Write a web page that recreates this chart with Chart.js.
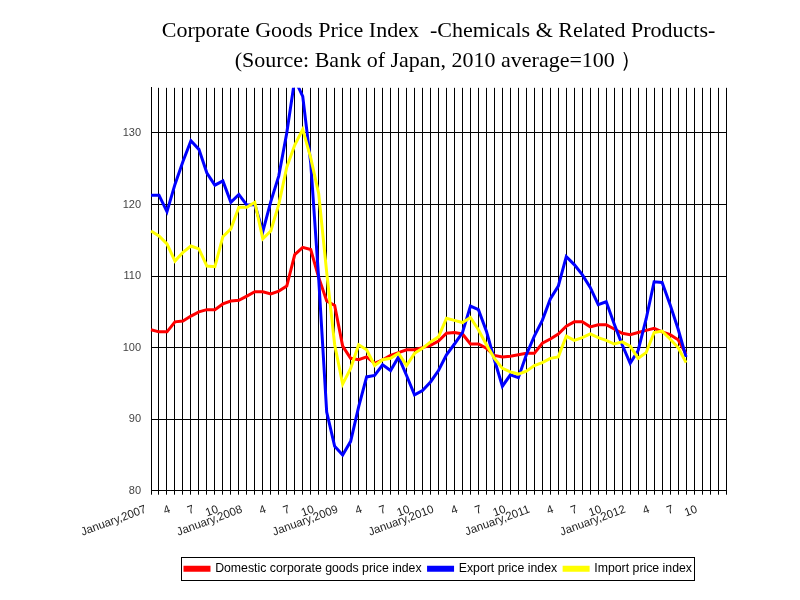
<!DOCTYPE html>
<html>
<head>
<meta charset="utf-8">
<script src="https://cdn.jsdelivr.net/npm/chart.js@4.4.1/dist/chart.umd.min.js"></script>
<style>
  body { margin: 0; background: #fff; }
  canvas { display: block; }
</style>
</head>
<body>
<canvas id="priceChart" width="800" height="600"></canvas>
<script>
// one label per month, Jan 2007 .. Jan 2013 (last one left blank)
const tickLabels = [
  "January,2007", "", "", "4", "", "", "7", "", "", "10", "", "",
  "January,2008", "", "", "4", "", "", "7", "", "", "10", "", "",
  "January,2009", "", "", "4", "", "", "7", "", "", "10", "", "",
  "January,2010", "", "", "4", "", "", "7", "", "", "10", "", "",
  "January,2011", "", "", "4", "", "", "7", "", "", "10", "", "",
  "January,2012", "", "", "4", "", "", "7", "", "", "10", "", "",
  ""
];

// monthly values, Jan 2007 .. Aug 2012
const domesticIndex = [
  102.5, 102.2, 102.2, 103.6, 103.7, 104.4, 105.0, 105.3, 105.3, 106.1, 106.5, 106.6,
  107.2, 107.8, 107.8, 107.5, 107.9, 108.6, 113.0, 114.0, 113.7, 109.8, 106.5, 105.9,
  100.2, 98.5, 98.3, 98.7, 97.8, 98.3, 98.9, 99.3, 99.7, 99.7, 100.0, 100.3,
  100.9, 102.0, 102.1, 101.9, 100.5, 100.5, 99.9, 98.9, 98.7, 98.8, 99.0, 99.2,
  99.2, 100.6, 101.2, 101.9, 103.0, 103.6, 103.6, 102.9, 103.2, 103.2, 102.6, 102.0,
  101.8, 102.1, 102.4, 102.7, 102.2, 101.8, 101.1, 99.1
];

const exportIndex = [
  121.3, 121.3, 119.0, 122.8, 126.0, 128.9, 127.7, 124.4, 122.7, 123.3, 120.3, 121.4,
  119.9, 120.0, 116.2, 120.4, 124.0, 130.0, 137.5, 135.1, 125.8, 109.6, 91.0, 86.2,
  85.0, 86.9, 91.7, 95.9, 96.1, 97.6, 96.8, 98.7, 96.1, 93.4, 94.0, 95.2,
  96.8, 99.0, 100.5, 102.1, 105.8, 105.3, 102.3, 98.3, 94.6, 96.2, 95.8, 99.0,
  101.6, 103.8, 106.8, 108.6, 112.7, 111.6, 110.2, 108.4, 106.0, 106.4, 103.3, 100.4,
  97.8, 99.6, 104.0, 109.2, 109.1, 106.0, 102.6, 98.7
];

const importIndex = [
  116.3, 115.6, 114.5, 112.1, 113.3, 114.2, 113.8, 111.4, 111.3, 115.5, 116.6, 119.6,
  119.6, 120.3, 115.2, 116.3, 120.0, 125.2, 128.3, 130.5, 126.5, 121.5, 110.5, 100.4,
  94.9, 97.1, 100.4, 99.7, 97.5, 98.3, 98.5, 99.2, 97.5, 99.2, 99.9, 100.8,
  101.5, 104.1, 103.8, 103.5, 104.2, 102.5, 100.4, 98.5, 97.1, 96.6, 96.3, 96.7,
  97.5, 97.9, 98.5, 98.7, 101.6, 101.0, 101.4, 101.9, 101.4, 101.0, 100.5, 100.8,
  100.2, 98.5, 99.3, 102.1, 102.3, 101.2, 100.0, 97.9
];

const seriesNames = [
  "Domestic corporate goods price index",
  "Export price index",
  "Import price index"
];
const seriesColors = ["#ff0000", "#0000ff", "#ffff00"];

const titleLines = [
  "Corporate Goods Price Index  -Chemicals & Related Products-",
  "(Source: Bank of Japan, 2010 average=100 \uff09"
];

// box round the legend, like the spreadsheet chart
const legendFrame = {
  id: "legendFrame",
  afterDraw(chart) {
    const boxes = chart.legend.legendHitBoxes;
    if (!boxes || boxes.length === 0) return;
    let left = Infinity, right = -Infinity, top = Infinity, bottom = -Infinity;
    boxes.forEach((b) => {
      left = Math.min(left, b.left);
      right = Math.max(right, b.left + b.width);
      top = Math.min(top, b.top);
      bottom = Math.max(bottom, b.top + b.height);
    });
    const ctx = chart.ctx;
    ctx.save();
    ctx.strokeStyle = "#000";
    ctx.lineWidth = 1;
    ctx.strokeRect(Math.round(left - 4) + 0.5, Math.round(top - 6) + 0.5,
      Math.round(right - left + 6), Math.round(bottom - top + 11));
    ctx.restore();
  }
};

const allSeries = [domesticIndex, exportIndex, importIndex];

new Chart(document.getElementById("priceChart"), {
  type: "line",
  data: {
    labels: tickLabels,
    datasets: allSeries.map((values, i) => ({
      label: seriesNames[i],
      data: values,
      borderColor: seriesColors[i],
      backgroundColor: seriesColors[i],
      borderWidth: 3,
      pointRadius: 0,
      tension: 0,
      order: 3 - i,
    })),
  },
  options: {
    responsive: false,
    animation: false,
    devicePixelRatio: 1,
    layout: { padding: { left: 0, right: 74, top: 0, bottom: 15 } },
    plugins: {
      tooltip: { enabled: false },
      title: {
        display: true,
        fullSize: false,
        text: titleLines,
        color: "#000",
        font: { family: "'Liberation Serif', 'Times New Roman', serif", size: 22, weight: "normal", lineHeight: 1.36 },
        padding: { top: 16, bottom: 12 },
      },
      legend: {
        position: "bottom",
        fullSize: false,
        labels: {
          color: "#000",
          font: { family: "'Liberation Sans', Arial, sans-serif", size: 12.3 },
          boxWidth: 24,
          boxHeight: 3,
          padding: 7,
          sort: (a, b) => a.datasetIndex - b.datasetIndex,
        },
      },
    },
    scales: {
      x: {
        type: "category",
        offset: false,
        grid: { color: "#000", lineWidth: 1, tickLength: 4, drawOnChartArea: true },
        border: { color: "#000" },
        ticks: {
          autoSkip: false,
          maxRotation: 20,
          minRotation: 20,
          padding: 8,
          labelOffset: -5,
          color: "#222",
          font: { family: "'Liberation Sans', Arial, sans-serif", size: 11.5 },
        },
        afterFit: (scale) => { scale.height = 65; },
      },
      y: {
        min: 80,
        max: 136.3,
        grid: { color: "#000", lineWidth: 1, drawTicks: false },
        border: { color: "#000" },
        ticks: {
          stepSize: 10,
          padding: 10,
          color: "#444",
          font: { family: "'Liberation Sans', Arial, sans-serif", size: 11 },
        },
        afterBuildTicks: (scale) => {
          scale.ticks = scale.ticks.filter((t) => t.value % 10 === 0);
        },
        afterFit: (scale) => { scale.width = 151; },
      },
    },
  },
  plugins: [legendFrame],
});
</script>
</body>
</html>
